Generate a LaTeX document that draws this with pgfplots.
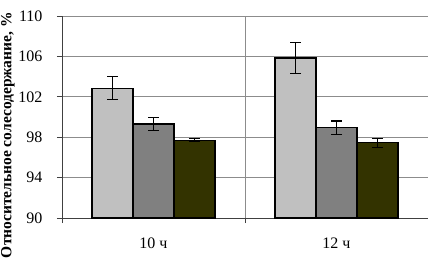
\documentclass[border=0pt]{standalone}
\usepackage{pgfplots}
\pgfplotsset{compat=1.18}
\usepackage{fontspec}
\setmainfont{Liberation Serif}
\definecolor{barA}{RGB}{192,192,192}
\definecolor{barB}{RGB}{128,128,128}
\definecolor{barC}{RGB}{51,51,0}
\definecolor{gridc}{RGB}{140,140,140}
\begin{document}
\begin{tikzpicture}
\begin{axis}[
  scale only axis,
  width=366pt, height=202pt,
  ymin=90, ymax=110,
  xmin=-0.5, xmax=1.5,
  ytick={90,94,98,102,106,110},
  xtick={0,1},
  xticklabels={10 ч,12 ч},
  minor xtick={-0.5,0.5,1.5},
  xminorgrids=true,
  ymajorgrids=true,
  grid style={gridc, line width=0.8pt},
  minor grid style={gridc, line width=0.8pt},
  axis lines*=left,
  axis line style={black!75, line width=0.8pt},
  tick align=outside,
  major tick length=5pt,
  minor tick length=5pt,
  x tick style={draw=none},
  minor x tick style={draw=black!75, line width=0.8pt},
  y tick style={black!75, line width=0.8pt},
  /pgf/number format/assume math mode=true,
  yticklabel style={font=\fontsize{16}{18}\selectfont, xshift=-11pt},
  xticklabel style={font=\fontsize{16}{18}\selectfont, yshift=-11pt},
  ylabel={Относительное солесодержание, \%},
  ylabel style={at={(axis description cs:-0.1667,0.41)}, anchor=north, inner sep=0pt, font=\bfseries\fontsize{15.5}{17}\selectfont},
  ybar=0pt,
  bar width=0.224,
  error bars/error bar style={line width=1.3pt, black},
  error bars/error mark options={rotate=90, mark size=5.5pt, line width=1.3pt, black},
]
\addplot[fill=barA, draw=black, line width=1.3pt,
  error bars/.cd, y dir=both, y explicit]
  coordinates {(0,102.85) +- (0,1.15) (1,105.85) +- (0,1.55)};
\addplot[fill=barB, draw=black, line width=1.3pt,
  error bars/.cd, y dir=both, y explicit]
  coordinates {(0,99.3) +- (0,0.65) (1,98.95) +- (0,0.65)};
\addplot[fill=barC, draw=black, line width=1.3pt,
  error bars/.cd, y dir=both, y explicit]
  coordinates {(0,97.7) +- (0,0.15) (1,97.45) +- (0,0.45)};
\end{axis}
\pgfresetboundingbox
\useasboundingbox ([xshift=-62pt,yshift=-45pt]current axis.south west) rectangle ([yshift=16pt]current axis.north east);
\end{tikzpicture}
\end{document}
